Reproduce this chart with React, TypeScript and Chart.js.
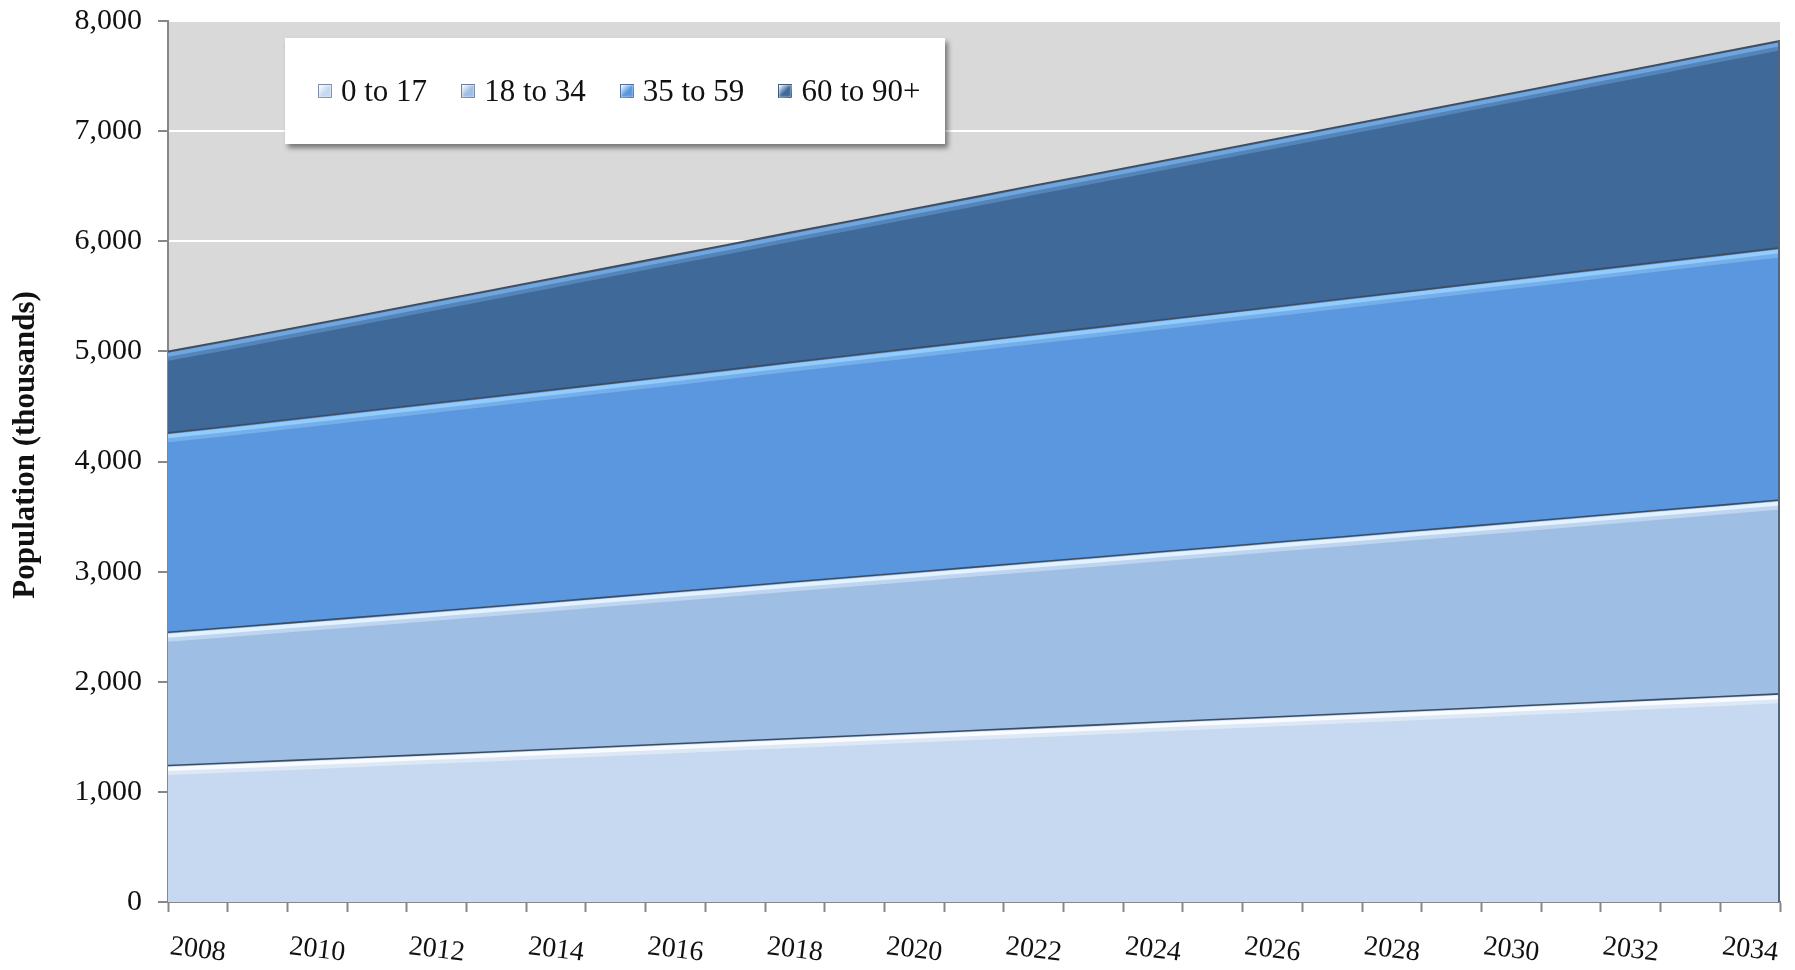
import React, { useEffect, useRef } from 'react';
import { Chart, registerables } from 'chart.js';

Chart.register(...registerables);

// ---------------- data ----------------
const YEARS = [
  2008, 2009, 2010, 2011, 2012, 2013, 2014, 2015, 2016, 2017, 2018, 2019, 2020, 2021,
  2022, 2023, 2024, 2025, 2026, 2027, 2028, 2029, 2030, 2031, 2032, 2033, 2034,
];
const X_TICK_LABELS = [
  '2008', '2010', '2012', '2014', '2016', '2018', '2020',
  '2022', '2024', '2026', '2028', '2030', '2032', '2034',
];
const SERIES_NAMES = ['0 to 17', '18 to 34', '35 to 59', '60 to 90+'];

const AGE_0_17 = [
  1240, 1262, 1286, 1310, 1334, 1358, 1383, 1408, 1433, 1458, 1483, 1508, 1533, 1558,
  1583, 1608, 1634, 1659, 1684, 1709, 1735, 1760, 1786, 1812, 1838, 1864, 1890,
];
const AGE_18_34 = [
  1210, 1230, 1251, 1272, 1293, 1314, 1335, 1356, 1377, 1398, 1420, 1441, 1462, 1483,
  1504, 1525, 1546, 1567, 1589, 1610, 1631, 1653, 1674, 1695, 1717, 1738, 1760,
];
const AGE_35_59 = [
  1810, 1828, 1847, 1865, 1884, 1902, 1921, 1939, 1958, 1976, 1995, 2013, 2032, 2050,
  2069, 2087, 2105, 2124, 2142, 2161, 2179, 2198, 2216, 2235, 2253, 2272, 2290,
];
const AGE_60_PLUS = [
  740, 783, 826, 870, 914, 958, 1002, 1046, 1090, 1134, 1178, 1222, 1266, 1310,
  1354, 1398, 1441, 1485, 1529, 1573, 1617, 1661, 1705, 1749, 1793, 1837, 1880,
];
const SERIES_VALUES = [AGE_0_17, AGE_18_34, AGE_35_59, AGE_60_PLUS];

const Y_MIN = 0;
const Y_MAX = 8000;
const Y_STEP = 1000;
const Y_TITLE = 'Population (thousands)';

// ---------------- styles ----------------
const FONT = '"Liberation Serif", "Times New Roman", serif';
const FILLS = ['#C6D9F1', '#9EBEE4', '#5B97DF', '#3E6999'];
const HIGHLIGHTS = ['#F8FBFF', '#E2F2FF', '#93CBFA', '#6FA6DE'];
const EDGE = '#3E4C60';
const AXIS_GRAY = '#878787';
const PLOT_BG = '#D9D9D9';

const plotBgPlugin = {
  id: 'plotBg',
  beforeDraw(chart: any) {
    const { ctx, chartArea: a } = chart;
    ctx.save();
    ctx.fillStyle = PLOT_BG;
    ctx.fillRect(a.left, a.top, a.right - a.left, a.bottom - a.top);
    ctx.restore();
  },
};

const bevelPlugin = {
  id: 'bevel',
  afterDatasetsDraw(chart: any) {
    const { ctx, chartArea: a } = chart;
    ctx.save();
    ctx.beginPath();
    ctx.rect(a.left, a.top - 2, a.right - a.left, a.bottom - a.top + 2);
    ctx.clip();
    const n = chart.data.datasets.length;
    for (let d = 0; d < n; d++) {
      const pts = chart.getDatasetMeta(d).data;
      // soft outer part of the bevel
      ctx.beginPath();
      pts.forEach((p: any, i: number) => (i ? ctx.lineTo(p.x, p.y + 6.5) : ctx.moveTo(p.x, p.y + 6.5)));
      ctx.strokeStyle = HIGHLIGHTS[d];
      ctx.globalAlpha = 0.45;
      ctx.lineWidth = 6;
      ctx.stroke();
      // bright inner part of the bevel
      ctx.beginPath();
      pts.forEach((p: any, i: number) => (i ? ctx.lineTo(p.x, p.y + 3.5) : ctx.moveTo(p.x, p.y + 3.5)));
      ctx.globalAlpha = 1;
      ctx.lineWidth = 4;
      ctx.stroke();
      // dark top edge
      ctx.beginPath();
      pts.forEach((p: any, i: number) => (i ? ctx.lineTo(p.x, p.y) : ctx.moveTo(p.x, p.y)));
      ctx.strokeStyle = EDGE;
      ctx.lineWidth = 1.6;
      ctx.stroke();
    }
    // dark right edge of the stack
    const top = chart.getDatasetMeta(n - 1).data;
    const last = top[top.length - 1];
    ctx.beginPath();
    ctx.moveTo(last.x - 1, last.y);
    ctx.lineTo(last.x - 1, a.bottom);
    ctx.strokeStyle = '#56657A';
    ctx.lineWidth = 2;
    ctx.stroke();
    ctx.restore();
  },
};

const textPlugin = {
  id: 'axisTexts',
  afterDraw(chart: any) {
    const { ctx } = chart;
    const xs = chart.scales.x;
    const ys = chart.scales.y;
    ctx.save();
    ctx.fillStyle = '#111';
    ctx.font = `28px ${FONT}`;
    ctx.textAlign = 'center';
    ctx.textBaseline = 'middle';
    YEARS.forEach((yr, i) => {
      const label = String(yr);
      if (!X_TICK_LABELS.includes(label)) return;
      const x = xs.getPixelForTick(i);
      ctx.save();
      ctx.translate(x, xs.top + 48);
      ctx.rotate((7 * Math.PI) / 180);
      ctx.fillText(label, 0, 0);
      ctx.restore();
    });
    // y axis title
    ctx.save();
    ctx.font = `bold 31px ${FONT}`;
    ctx.translate(26, ys.getPixelForValue(4150));
    ctx.rotate(-Math.PI / 2);
    ctx.fillText(Y_TITLE, 0, 0);
    ctx.restore();
    ctx.restore();
  },
};

function LegendMarker({ color }: { color: string }) {
  return (
    <span
      style={{
        display: 'inline-block',
        width: 14,
        height: 14,
        marginRight: 9,
        boxSizing: 'border-box',
        border: '1px solid rgba(60,80,110,0.55)',
        background: `linear-gradient(135deg, rgba(255,255,255,0.75) 0%, ${color} 55%, ${color} 100%)`,
        boxShadow: `inset 0 0 2px rgba(255,255,255,0.9)`,
      }}
    />
  );
}

export default function App() {
  const canvasRef = useRef<HTMLCanvasElement | null>(null);

  useEffect(() => {
    if (!canvasRef.current) return;
    const datasets = SERIES_NAMES.map((name, d) => ({
      label: name,
      data: YEARS.map((yr, i) => ({ x: yr, y: SERIES_VALUES[d][i] })),
      xAxisID: 'xd',
      yAxisID: 'y',
      backgroundColor: FILLS[d],
      borderColor: FILLS[d],
      borderWidth: 0,
      pointRadius: 0,
      fill: d === 0 ? 'origin' : '-1',
      tension: 0,
    }));

    const chart = new Chart(canvasRef.current, {
      type: 'line',
      data: { labels: YEARS.map(String), datasets },
      plugins: [plotBgPlugin, bevelPlugin, textPlugin],
      options: {
        animation: false,
        responsive: true,
        maintainAspectRatio: false,
        layout: { padding: { top: 21, right: 15, left: 0, bottom: 0 } },
        plugins: { legend: { display: false }, tooltip: { enabled: false } },
        scales: {
          xd: {
            type: 'linear',
            display: false,
            min: YEARS[0],
            max: YEARS[YEARS.length - 1],
          },
          x: {
            type: 'category',
            offset: true,
            grid: {
              offset: true,
              drawOnChartArea: false,
              drawTicks: true,
              tickLength: 10,
              tickColor: AXIS_GRAY,
              tickWidth: 2,
            },
            border: { display: true, color: AXIS_GRAY, width: 2 },
            ticks: {
              autoSkip: false,
              maxRotation: 0,
              minRotation: 0,
              color: 'rgba(0,0,0,0)',
              font: { family: FONT, size: 28 },
              callback: (_v: any, i: number) =>
                X_TICK_LABELS.includes(String(YEARS[i])) ? String(YEARS[i]) : '',
            },
            afterFit: (s: any) => {
              s.height = 68;
              s.paddingLeft = 0;
              s.paddingRight = 0;
            },
          },
          y: {
            type: 'linear',
            stacked: true,
            min: Y_MIN,
            max: Y_MAX,
            grid: {
              color: '#FFFFFF',
              lineWidth: 2,
              drawTicks: true,
              tickLength: 10,
              tickColor: AXIS_GRAY,
              tickWidth: 2,
            },
            border: { display: true, color: AXIS_GRAY, width: 2 },
            ticks: {
              stepSize: Y_STEP,
              padding: 16,
              color: '#111',
              font: { family: FONT, size: 30 },
              callback: (v: any) => Number(v).toLocaleString('en-US'),
            },
            title: { display: false },
            afterFit: (s: any) => {
              s.width = 168;
              s.paddingTop = 0;
              s.paddingBottom = 0;
            },
          },
        },
      } as any,
    });
    return () => chart.destroy();
  }, []);

  return (
    <div style={{ position: 'fixed', left: 0, top: 0, width: 1795, height: 970, background: '#fff' }}>
      <canvas ref={canvasRef} />
      <div
        style={{
          position: 'absolute',
          left: 285,
          top: 38,
          width: 660,
          height: 106,
          background: '#fff',
          boxShadow: '3px 4px 5px rgba(0,0,0,0.45)',
          display: 'flex',
          alignItems: 'center',
          paddingLeft: 33,
          boxSizing: 'border-box',
          fontFamily: FONT,
          fontSize: 31,
          color: '#111',
          whiteSpace: 'nowrap',
        }}
      >
        {SERIES_NAMES.map((name, d) => (
          <span key={name} style={{ display: 'inline-flex', alignItems: 'center', marginRight: 34 }}>
            <LegendMarker color={FILLS[d]} />
            <span>{name}</span>
          </span>
        ))}
      </div>
    </div>
  );
}
